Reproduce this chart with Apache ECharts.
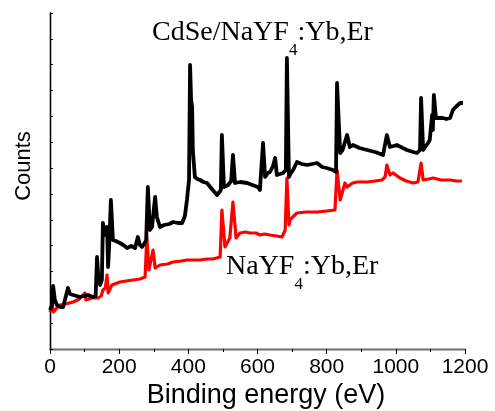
<!DOCTYPE html>
<html><head><meta charset="utf-8">
<script src="https://cdn.jsdelivr.net/npm/echarts@6/dist/echarts.min.js"></script>
<style>html,body{margin:0;padding:0;background:#fff}#c{width:495px;height:411px}</style>
</head><body><div id="c"></div>
<script>
// Binding energy (eV) and counts (arbitrary units)
const cdseEnergy = [0,6,9,14,20,29,38,52,58,67,87,110,124,132,136,140,145,150,153,159,165,168,172,176,182,190,202,212,223,235,246,254,260,266,272,278,283,289,295,304,309,318,330,345,356,370,382,390,396,402,405,408,411,413,419,426,434,444,454,468,483,494,497,503,515,524,529,535,550,570,585,601,607,616,622,630,636,645,651,656,665,674,682,685,691,697,703,714,728,743,758,772,787,800,818,827,830,839,846,850,859,867,876,895,917,940,963,974,983,1003,1020,1032,1050,1061,1070,1073,1079,1087,1093,1098,1105,1107,1110,1116,1126,1136,1146,1157,1165,1176,1186,1194];
const cdseCounts = [39,44,63,49,44,42,42,61,55,54,52,54,52,53,92,70,64,69,126,114,122,82,110,149,109,108,106,104,101,103,101,112,104,102,105,109,162,119,122,152,132,122,124,125,127,126,126,133,149,169,284,249,242,199,172,170,169,167,166,160,154,159,214,162,164,168,194,166,167,166,164,162,159,206,172,176,177,183,191,174,175,176,179,291,172,176,179,187,185,184,185,186,182,181,179,177,266,196,199,201,214,202,204,201,199,197,194,214,202,204,201,199,197,196,199,251,199,203,206,209,234,219,254,231,231,231,230,231,239,243,246,246];
const nayfEnergy = [0,6,10,14,22,29,45,67,85,101,104,120,139,148,153,160,165,168,179,202,220,240,260,275,280,286,298,304,318,340,356,380,396,415,434,455,471,492,497,506,520,529,538,549,565,578,595,607,620,636,655,671,680,685,691,694,705,714,740,772,800,824,830,839,853,859,875,888,905,917,940,960,969,974,983,992,1012,1030,1050,1064,1073,1079,1095,1108,1130,1157,1175,1191];
const nayfCounts = [37,44,37,39,42,44,45,47,50,56,49,51,51,53,59,61,74,56,64,67,68,69,70,72,112,79,99,81,84,85,87,88,89,89,89,90,90,92,139,102,111,147,111,116,117,116,116,114,115,114,113,112,119,171,124,129,133,136,137,137,138,139,179,149,166,162,166,167,167,167,168,169,172,184,174,176,171,168,166,167,186,169,170,171,169,169,168,168];
const xTicks = [0,200,400,600,800,1000,1200];

const zip = (a,b)=>a.map((v,i)=>[v,b[i]]);
const chart = echarts.init(document.getElementById('c'));
const serif = '"Liberation Serif","Times New Roman",serif';
const sans = '"Liberation Sans",Arial,sans-serif';
function label(x,y,main1,sub,main2,color){
  return {type:'text',left:x,top:y,style:{
    text:'{a|'+main1+'}{s|'+sub+'}{a|'+main2+'}',
    rich:{a:{fontFamily:serif,fontSize:28,color:color,lineHeight:30,verticalAlign:'top'},
          s:{fontFamily:serif,fontSize:17,color:color,lineHeight:17,verticalAlign:'bottom',padding:[0,0,-10,0]}}
  }};
}
chart.setOption({
  animation:false,
  backgroundColor:'#fff',
  grid:{left:50,top:13,right:30,bottom:62},
  xAxis:[{
    type:'value',min:xTicks[0],max:xTicks[xTicks.length-1],interval:200,
    axisLine:{lineStyle:{color:'#000',width:1.3}},
    axisTick:{show:true,length:5,lineStyle:{color:'#000'}},
    minorTick:{show:true,splitNumber:2,length:3,lineStyle:{color:'#000'}},
    splitLine:{show:false},
    axisLabel:{color:'#000',fontSize:21,fontFamily:sans,margin:8,formatter:v=>String(v)}
  },{
    type:'value',position:'top',min:0,max:1200,
    axisLine:{show:true,lineStyle:{color:'#777',width:1.3}},
    axisTick:{show:false},axisLabel:{show:false},splitLine:{show:false}
  }],
  yAxis:[{
    type:'value',min:0,max:336,interval:336/13,
    axisLine:{show:true,lineStyle:{color:'#000',width:1.3}},
    axisTick:{show:true,inside:true,length:3,lineStyle:{color:'#000'}},
    axisLabel:{show:false},splitLine:{show:false}
  },{
    type:'value',position:'right',min:0,max:336,
    axisLine:{show:true,lineStyle:{color:'#000',width:1.3}},
    axisTick:{show:false},axisLabel:{show:false},splitLine:{show:false}
  }],
  series:[
    {type:'line',data:zip(nayfEnergy,nayfCounts),showSymbol:false,lineStyle:{color:'#ff0000',width:3.2,join:'round'},z:2},
    {type:'line',data:zip(cdseEnergy,cdseCounts),showSymbol:false,lineStyle:{color:'#000',width:3.8,join:'round'},z:3}
  ],
  graphic:[
    label(152,19,'CdSe/NaYF','4',':Yb,Er','#000'),
    label(226,253,'NaYF','4',':Yb,Er','#ff0000'),
    {type:'text',x:266,y:396,style:{text:'Binding energy (eV)',fontFamily:sans,fontSize:27,fill:'#000',align:'center',verticalAlign:'middle'}},
    {type:'text',x:24,y:166,rotation:Math.PI/2,style:{text:'Counts',fontFamily:sans,fontSize:22,fill:'#000',align:'center',verticalAlign:'middle'}}
  ]
});
</script></body></html>
